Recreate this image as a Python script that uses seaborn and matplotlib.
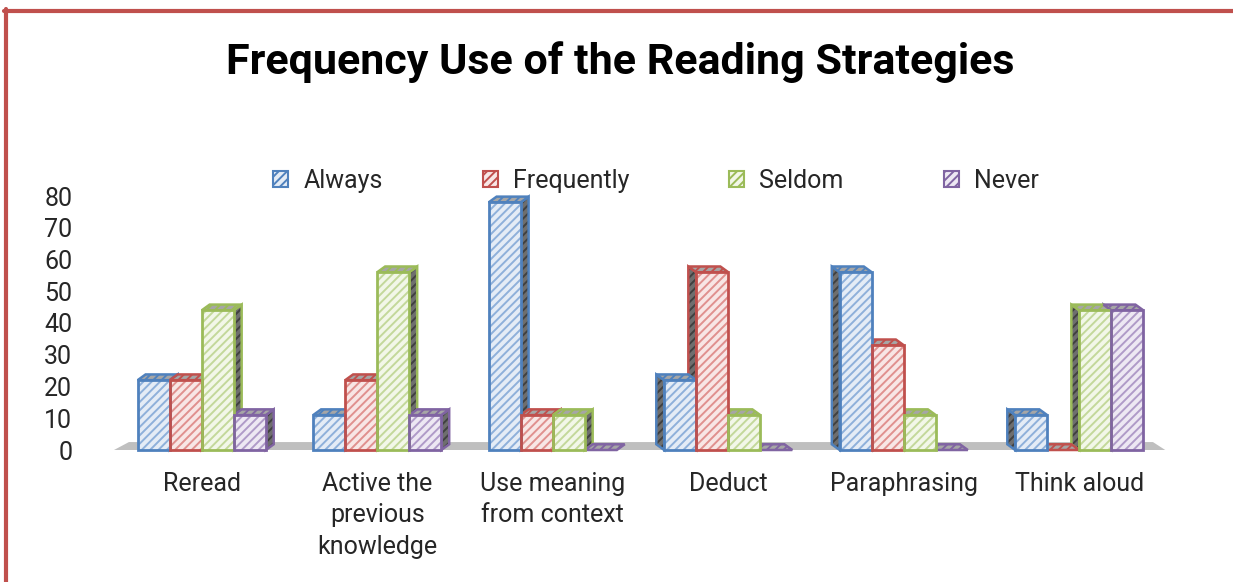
import matplotlib
matplotlib.use("Agg")
import matplotlib.pyplot as plt
import seaborn as sns
import pandas as pd
import numpy as np
from matplotlib.patches import Polygon, Rectangle, Patch
from matplotlib import font_manager

categories = ["Reread", "Active the\nprevious\nknowledge", "Use meaning\nfrom context",
              "Deduct", "Paraphrasing", "Think aloud"]
series = ["Always", "Frequently", "Seldom", "Never"]
always = [22, 11, 78, 22, 56, 11]
frequently = [22, 22, 11, 56, 33, 0]
seldom = [44, 56, 11, 11, 11, 44]
never = [11, 11, 0, 0, 0, 44]
y_ticks = [0, 10, 20, 30, 40, 50, 60, 70, 80]
title = "Frequency Use of the Reading Strategies"

edge_colors = ["#4F81BD", "#C0504D", "#9BBB59", "#8064A2"]
hatch_colors = ["#8EB0DA", "#E0908E", "#C3D89A", "#AF9BC8"]
fill_colors = ["#E4ECF6", "#F8E6E5", "#F2F7E8", "#EDE8F3"]

sns.set_theme(style="white")
avail = {f.name for f in font_manager.fontManager.ttflist}
fam = "Liberation Sans Narrow" if "Liberation Sans Narrow" in avail else "Roboto"
plt.rcParams["font.family"] = [fam, "DejaVu Sans"]
plt.rcParams["hatch.linewidth"] = 1.4

df = pd.DataFrame({
    "category": np.repeat(categories, len(series)),
    "series": series * len(categories),
    "value": np.ravel(np.column_stack([always, frequently, seldom, never])),
})

W, H = 1233, 582
fig = plt.figure(figsize=(W / 100, H / 100), dpi=100)
fig.patch.set_facecolor("white")
ax = fig.add_axes([114 / W, 1 - 450 / H, (1167 - 114) / W, (450 - 196) / H])

sns.barplot(data=df, x="category", y="value", hue="series", order=categories,
            hue_order=series, ax=ax, width=0.73, legend=False, saturation=1,
            errorbar=None)

ax.set_xlim(-0.5, len(categories) - 0.5)
ax.set_ylim(0, 80)

# floor
xl = ax.get_xlim()
floor = Polygon([(xl[0], 0), (xl[1] - 0.01, 0), (xl[1] - 0.08, 2.5), (xl[0] + 0.085, 2.5)],
                closed=True, facecolor="#BFBFBF", edgecolor="none", zorder=0.5, clip_on=False)
ax.add_patch(floor)

HATCH = "////"
dx, dy = 0.045, 1.8
mid = (len(categories) - 1) / 2
for s_i, cont in enumerate(ax.containers):
    for p in cont.patches:
        x0 = p.get_x()
        w = p.get_width()
        h = p.get_height()
        x1 = x0 + w
        right = (x0 + w / 2) < mid
        if right:
            top = [(x0, h), (x1, h), (x1 + dx, h + dy), (x0 + dx, h + dy)]
            side = [(x1, 0), (x1 + dx, dy), (x1 + dx, h + dy), (x1, h)]
        else:
            top = [(x0, h), (x1, h), (x1 - dx, h + dy), (x0 - dx, h + dy)]
            side = [(x0, 0), (x0 - dx, dy), (x0 - dx, h + dy), (x0, h)]
        if h > 0:
            ax.add_patch(Polygon(side, closed=True, facecolor="#6E6E6E", edgecolor="#404040",
                                 hatch=HATCH, lw=0, zorder=1, clip_on=False))
            ax.add_patch(Polygon(side, closed=True, facecolor="none", edgecolor=edge_colors[s_i],
                                 lw=1.8, zorder=1.05, clip_on=False))
        ax.add_patch(Polygon(top, closed=True, facecolor="#A6A6A6", edgecolor=edge_colors[s_i],
                             hatch=HATCH, lw=0, zorder=1.1, clip_on=False))
        ax.add_patch(Polygon(top, closed=True, facecolor="none", edgecolor=edge_colors[s_i],
                             lw=1.8, zorder=1.15, clip_on=False))
        p.set_facecolor(fill_colors[s_i])
        p.set_edgecolor(hatch_colors[s_i])
        p.set_hatch(HATCH)
        p.set_linewidth(0)
        p.set_zorder(2)
        p.set_clip_on(False)
        if h > 0:
            ax.add_patch(Rectangle((x0, 0), w, h, facecolor="none", edgecolor=edge_colors[s_i],
                                   lw=2, zorder=2.1, clip_on=False))

for sp in ax.spines.values():
    sp.set_visible(False)
ax.set_xlabel("")
ax.set_ylabel("")
ax.set_yticks(y_ticks)
ax.set_yticklabels([str(t) for t in y_ticks], fontsize=18)
ax.tick_params(axis="y", length=0, pad=30)
ax.tick_params(axis="x", length=0, pad=16, labelsize=18)
ax.set_xticks(range(len(categories)))
ax.set_xticklabels(categories, fontsize=18, linespacing=1.38)
ax.grid(False)

fig.text(620 / W, 1 - 62 / H, title, ha="center", va="center", fontsize=31,
         fontweight="bold", color="black")

handles = [Patch(facecolor=fill_colors[i], edgecolor=edge_colors[i], hatch=HATCH, lw=1.5,
                 label=series[i]) for i in range(len(series))]
fig.legend(handles=handles, loc="center", bbox_to_anchor=(656 / W, 1 - 181 / H), ncol=4,
           frameon=False, fontsize=18, handlelength=0.6, handleheight=0.6,
           handletextpad=0.6, columnspacing=4.0)

# red frame
fig.add_artist(plt.Line2D([6 / W, 6 / W], [0, 1 - 9 / H], color="#C0504D", lw=3,
                          transform=fig.transFigure))
fig.add_artist(plt.Line2D([4 / W, 1], [1 - 10.5 / H, 1 - 10.5 / H], color="#C0504D", lw=3,
                          transform=fig.transFigure))

fig.savefig("out.png", dpi=100)
